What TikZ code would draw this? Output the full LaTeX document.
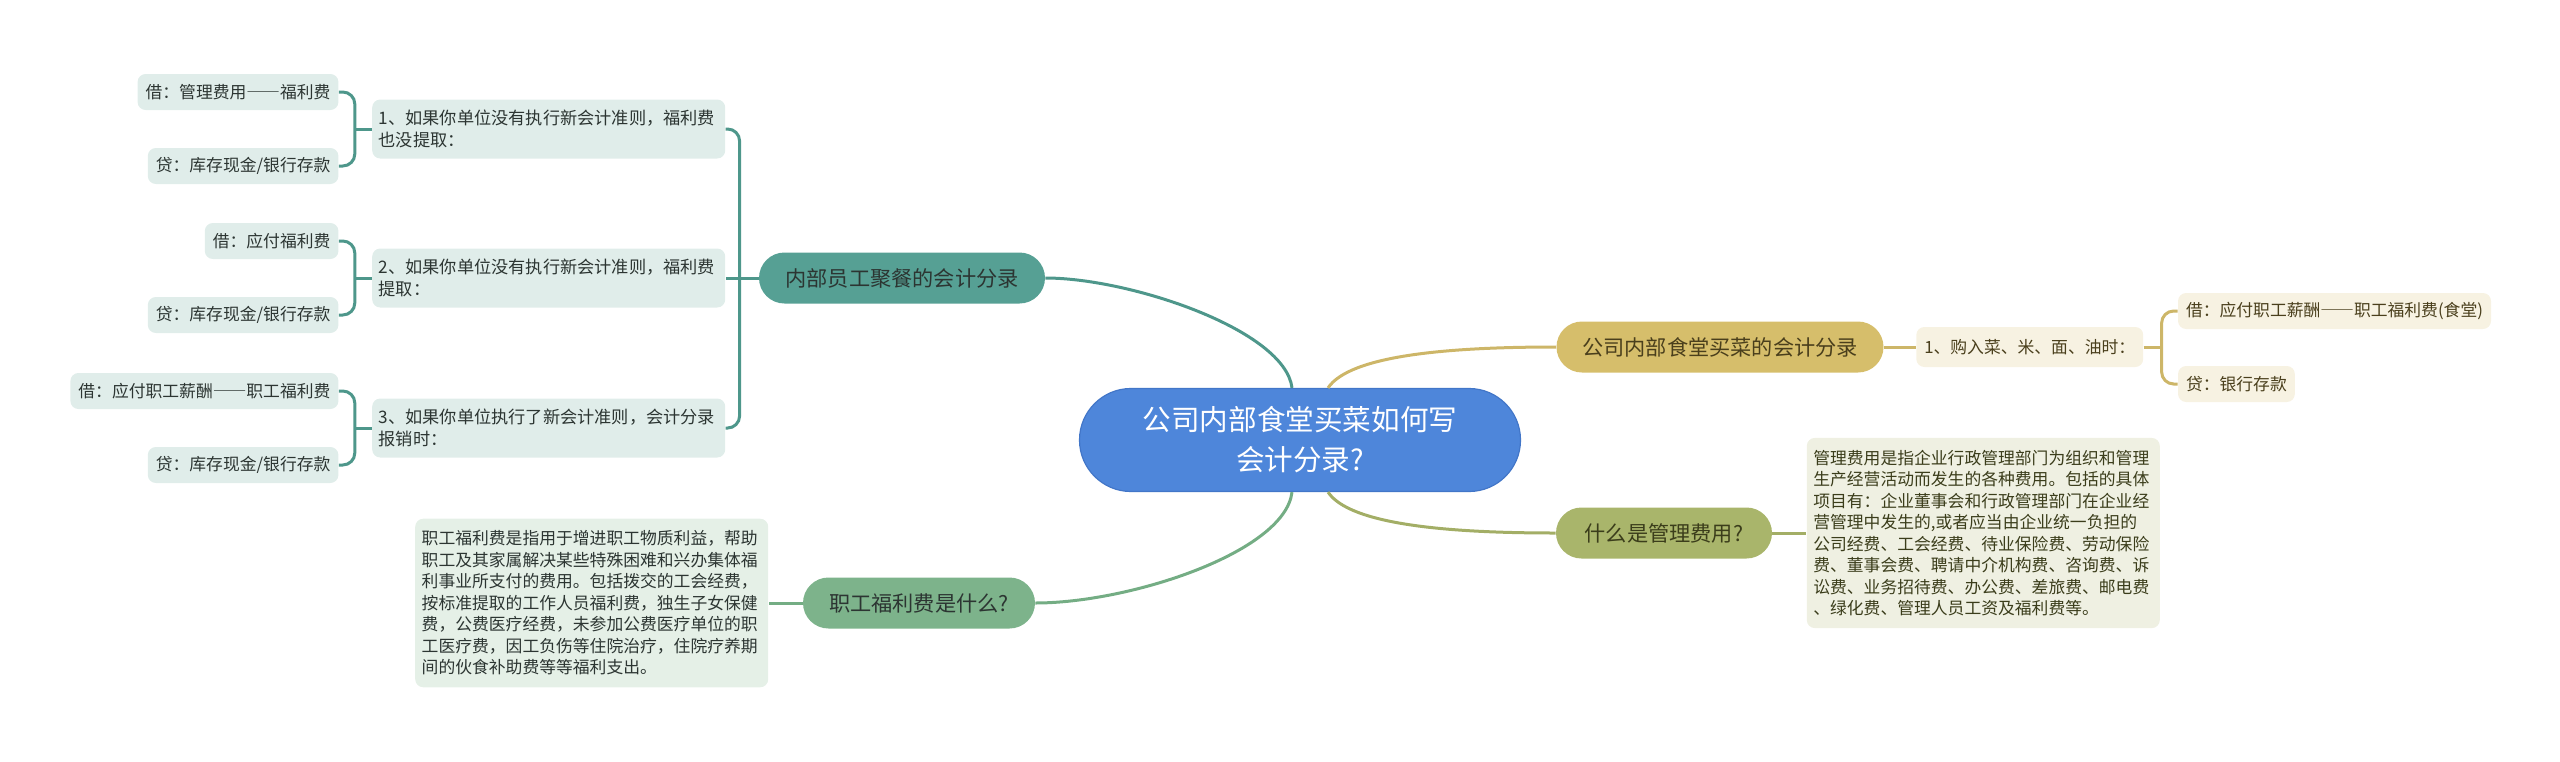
\documentclass[tikz,border=0pt]{standalone}
\usepackage{fontspec}
\setmainfont{Noto Sans CJK SC}
\usetikzlibrary{positioning,calc}

\definecolor{rootblue}{HTML}{4E86DA}
\definecolor{rootedge}{HTML}{4276C8}
\definecolor{mealfill}{HTML}{56A094}
\definecolor{mealline}{HTML}{4E978B}
\definecolor{mealleaf}{HTML}{E0EDEA}
\definecolor{welffill}{HTML}{7DB38B}
\definecolor{welfline}{HTML}{74AD84}
\definecolor{welfleaf}{HTML}{E5F0E7}
\definecolor{canfill}{HTML}{D6BE6B}
\definecolor{canline}{HTML}{CDB668}
\definecolor{canleaf}{HTML}{F7F2E2}
\definecolor{mgmtfill}{HTML}{A9B56B}
\definecolor{mgmtline}{HTML}{A3AE66}
\definecolor{mgmtleaf}{HTML}{EFF0E2}
\definecolor{darktext}{HTML}{2C3532}
\definecolor{goldtext}{HTML}{4A3F1C}
\definecolor{olivetext}{HTML}{3B3D1B}

% full-width double dash
\newcommand{\wdash}{{\addfontfeatures{RawFeature=+fwid}——}}

\begin{document}
\begin{tikzpicture}[
  x=0.5pt, y=-0.5pt,
  root/.style={
    fill=rootblue,
    draw=rootedge,
    line width=.6pt,
    rounded corners=25.75pt,
    minimum width=220.5pt,
    minimum height=51.5pt,
    align=center,
    text=white,
    font=\fontsize{14.3pt}{20pt}\selectfont
  },
  branch/.style={
    fill=#1,
    rounded corners=12.75pt,
    minimum height=25.5pt,
    inner xsep=6pt,
    text=darktext,
    font=\fontsize{10.6pt}{13pt}\selectfont
  },
  rule/.style={
    fill=mealleaf,
    rounded corners=4pt,
    text width=170pt,
    inner xsep=3.25pt,
    minimum height=29.5pt,
    align=left,
    text=darktext,
    font=\fontsize{8.6pt}{11pt}\selectfont
  },
  entry/.style={
    fill=#1,
    rounded corners=4pt,
    inner xsep=4pt,
    minimum height=18pt,
    text=darktext,
    font=\fontsize{8.4pt}{10.75pt}\selectfont
  },
  note/.style={
    fill=#1,
    rounded corners=4pt,
    text width=170pt,
    inner xsep=3.25pt,
    inner ysep=6pt,
    align=left,
    font=\fontsize{8.4pt}{10.75pt}\selectfont
  },
  link/.style={draw=#1, line width=1.5pt}
]
\useasboundingbox (0,0) rectangle (2560,761);

\node[root] (root) at (1300,440) {公司内部食堂买菜如何写\\会计分录?};

\node[branch=mealfill, minimum width=143pt] (meal) at (902,278) {内部员工聚餐的会计分录};
\node[branch=welffill, minimum width=116pt] (welfare) at (919,603) {职工福利费是什么?};
\node[branch=canfill, minimum width=163.5pt, text=goldtext] (canteen) at (1720,347) {公司内部食堂买菜的会计分录};
\node[branch=mgmtfill, minimum width=108pt, text=olivetext] (mgmt) at (1664,533) {什么是管理费用?};

% left: dinner entries
\node[rule, left=16.5pt of meal, yshift=74.5pt] (rule1)
  {1、如果你单位没有执行新会计准则，福利费\\也没提取：};
\node[rule, left=16.5pt of meal] (rule2)
  {2、如果你单位没有执行新会计准则，福利费\\提取：};
\node[rule, left=16.5pt of meal, yshift=-75pt] (rule3)
  {3、如果你单位执行了新会计准则，会计分录\\报销时：};

\node[entry=mealleaf, left=16.5pt of rule1, yshift=18.5pt] (debit1) {借：管理费用\wdash 福利费};
\node[entry=mealleaf, left=16.5pt of rule1, yshift=-18.5pt] (credit1) {贷：库存现金/银行存款};
\node[entry=mealleaf, left=16.5pt of rule2, yshift=18.5pt] (debit2) {借：应付福利费};
\node[entry=mealleaf, left=16.5pt of rule2, yshift=-18.5pt] (credit2) {贷：库存现金/银行存款};
\node[entry=mealleaf, left=16.5pt of rule3, yshift=18.5pt] (debit3) {借：应付职工薪酬\wdash 职工福利费};
\node[entry=mealleaf, left=16.5pt of rule3, yshift=-18.5pt] (credit3) {贷：库存现金/银行存款};

\node[note=welfleaf, text=darktext, left=17pt of welfare] (welfnote)
  {职工福利费是指用于增进职工物质利益，帮助\\
   职工及其家属解决某些特殊困难和兴办集体福\\
   利事业所支付的费用。包括拨交的工会经费，\\
   按标准提取的工作人员福利费，独生子女保健\\
   费，公费医疗经费，未参加公费医疗单位的职\\
   工医疗费，因工负伤等住院治疗，住院疗养期\\
   间的伙食补助费等等福利支出。};

% right: canteen entries
\node[entry=canleaf, text=goldtext, minimum height=20pt, right=16pt of canteen] (buy) {1、购入菜、米、面、油时：};
\node[entry=canleaf, text=goldtext, right=17pt of buy, yshift=18pt] (debit4) {借：应付职工薪酬\wdash 职工福利费(食堂)};
\node[entry=canleaf, text=goldtext, right=17pt of buy, yshift=-18.5pt] (credit4) {贷：银行存款};

\node[note=mgmtleaf, text=olivetext, right=17pt of mgmt] (mgmtnote)
  {管理费用是指企业行政管理部门为组织和管理\\
   生产经营活动而发生的各种费用。包括的具体\\
   项目有：企业董事会和行政管理部门在企业经\\
   营管理中发生的,或者应当由企业统一负担的\\
   公司经费、工会经费、待业保险费、劳动保险\\
   费、董事会费、聘请中介机构费、咨询费、诉\\
   讼费、业务招待费、办公费、差旅费、邮电费\\
   、绿化费、管理人员工资及福利费等。};

% root to branches
\draw[link=mealline] ($(root.north)+(-8,0)$) .. controls (1285,330) and (1130,278) .. (meal.east);
\draw[link=canline] ($(root.north)+(28,0)$) .. controls (1350,355) and (1450,347) .. (canteen.west);
\draw[link=welfline] ($(root.south)+(-8,0)$) .. controls (1285,552) and (1130,603) .. (welfare.east);
\draw[link=mgmtline] ($(root.south)+(28,0)$) .. controls (1350,525) and (1450,533) .. (mgmt.west);

% brackets
\coordinate (mealfork) at ($(meal.west)+(-19,0)$);
\draw[link=mealline, rounded corners=6pt] (rule1.east) -| (mealfork) |- (rule3.east);
\draw[link=mealline] (meal.west) -- (rule2.east);

\coordinate (fork1) at ($(rule1.west)+(-17,0)$);
\draw[link=mealline, rounded corners=6pt] (debit1.east) -| (fork1) |- (credit1.east);
\draw[link=mealline] (rule1.west) -- (fork1);
\coordinate (fork2) at ($(rule2.west)+(-17,0)$);
\draw[link=mealline, rounded corners=6pt] (debit2.east) -| (fork2) |- (credit2.east);
\draw[link=mealline] (rule2.west) -- (fork2);
\coordinate (fork3) at ($(rule3.west)+(-17,0)$);
\draw[link=mealline, rounded corners=6pt] (debit3.east) -| (fork3) |- (credit3.east);
\draw[link=mealline] (rule3.west) -- (fork3);

\draw[link=welfline] (welfare.west) -- (welfnote.east);

\coordinate (buyfork) at ($(buy.east)+(18,0)$);
\draw[link=canline, rounded corners=6pt] (debit4.west) -| (buyfork) |- (credit4.west);
\draw[link=canline] (canteen.east) -- (buy.west);
\draw[link=canline] (buy.east) -- (buyfork);

\draw[link=mgmtline] (mgmt.east) -- (mgmtnote.west);
\end{tikzpicture}
\end{document}
